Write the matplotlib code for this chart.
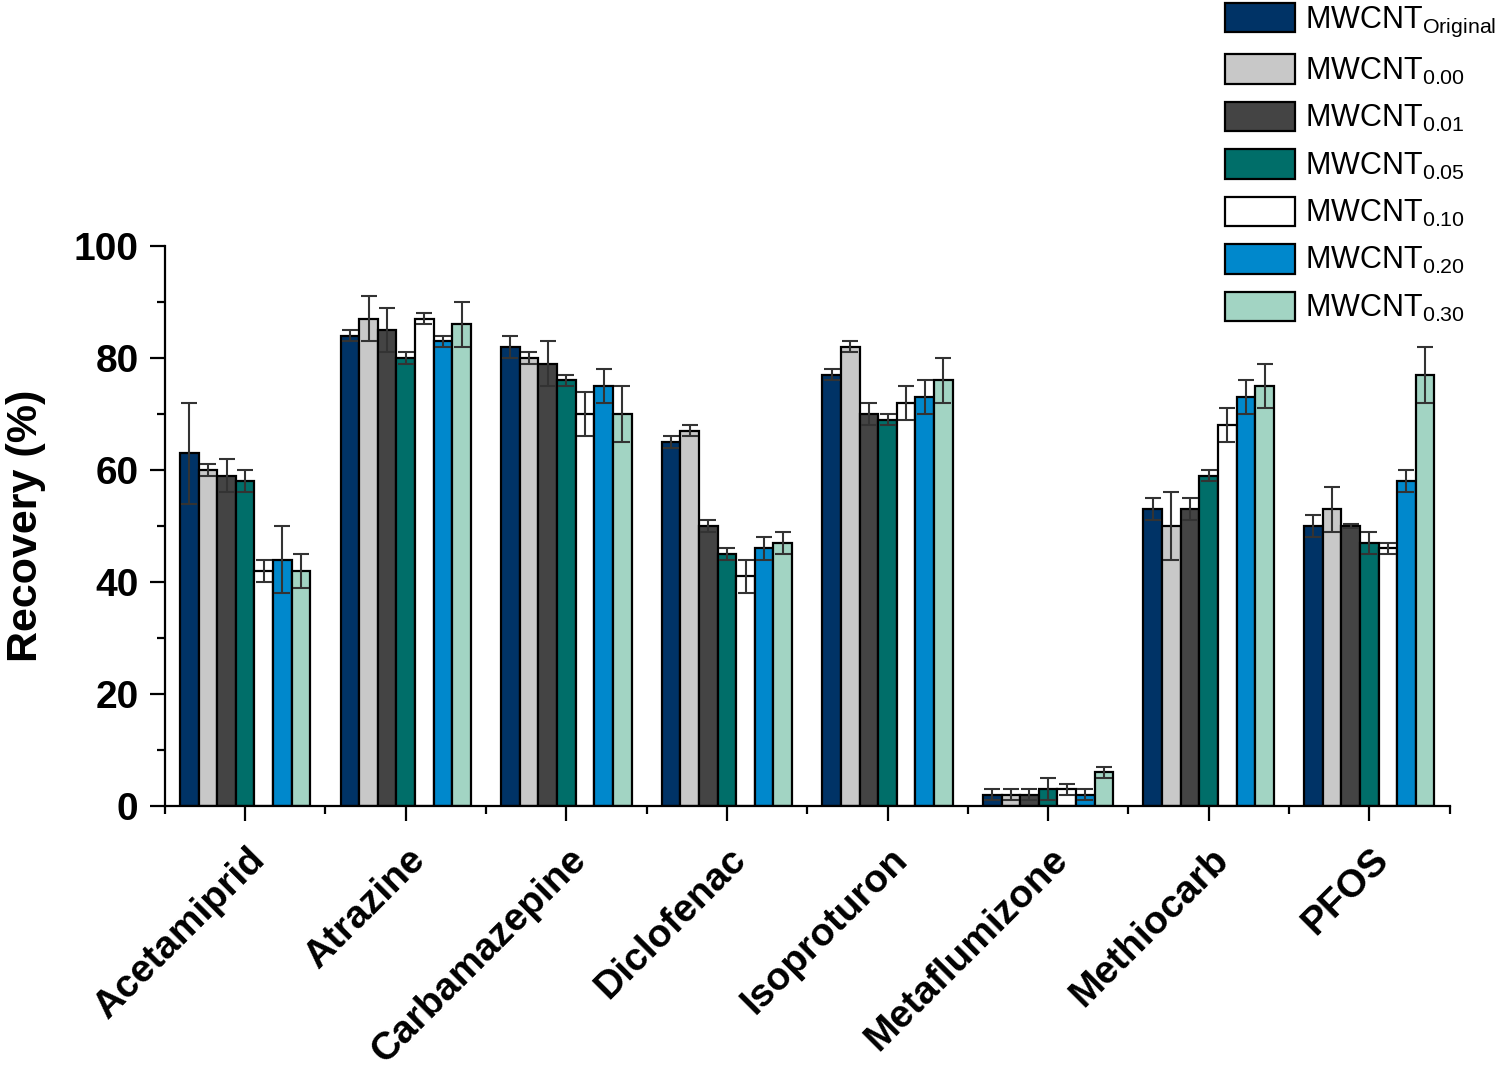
import matplotlib
matplotlib.use("Agg")
import matplotlib.pyplot as plt
import matplotlib.transforms as mtransforms
import numpy as np
from matplotlib.ticker import MultipleLocator, FixedLocator

plt.rcParams['font.family'] = ['Liberation Sans', 'DejaVu Sans']
plt.rcParams['mathtext.default'] = 'regular'

compounds = ["Acetamiprid", "Atrazine", "Carbamazepine", "Diclofenac",
             "Isoproturon", "Metaflumizone", "Methiocarb", "PFOS"]
series = ["Original", "0.00", "0.01", "0.05", "0.10", "0.20", "0.30"]
colors = ["#003366", "#C8C8C8", "#444444", "#006E69", "#FFFFFF", "#0088CC", "#A2D4C3"]

mw_original = [63, 84, 82, 65, 77, 2, 53, 50]
mw_000 = [60, 87, 80, 67, 82, 2, 50, 53]
mw_001 = [59, 85, 79, 50, 70, 2, 53, 50]
mw_005 = [58, 80, 76, 45, 69, 3, 59, 47]
mw_010 = [42, 87, 70, 41, 72, 3, 68, 46]
mw_020 = [44, 83, 75, 46, 73, 2, 73, 58]
mw_030 = [42, 86, 70, 47, 76, 6, 75, 77]

err_original = [9, 1, 2, 1, 1, 1, 2, 2]
err_000 = [1, 4, 1, 1, 1, 1, 6, 4]
err_001 = [3, 4, 4, 1, 2, 1, 2, 0.3]
err_005 = [2, 1, 1, 1, 1, 2, 1, 2]
err_010 = [2, 1, 4, 3, 3, 1, 3, 1]
err_020 = [6, 1, 3, 2, 3, 1, 3, 2]
err_030 = [3, 4, 5, 2, 4, 1, 4, 5]

values = [mw_original, mw_000, mw_001, mw_005, mw_010, mw_020, mw_030]
errors = [err_original, err_000, err_001, err_005, err_010, err_020, err_030]

fig = plt.figure(figsize=(14.99, 10.73), dpi=100)
ax = fig.add_axes([0.110, 0.2488, 0.857, 0.5219])

x = np.arange(len(compounds))
n = len(series)
w = 0.116
for i, (vals, errs, c, s) in enumerate(zip(values, errors, colors, series)):
    pos = x + (i - (n - 1) / 2) * w
    ax.bar(pos, vals, width=w, color=c, edgecolor='black', linewidth=1.6,
           label='$MWCNT_{' + s + '}$', zorder=2)
    ax.errorbar(pos, vals, yerr=errs, fmt='none', ecolor='#333333',
                elinewidth=1.5, capsize=6, capthick=1.5, zorder=3)

ax.set_xlim(-0.5, len(compounds) - 0.5)
ax.set_ylim(0, 100)
ax.spines['top'].set_visible(False)
ax.spines['right'].set_visible(False)
ax.spines['left'].set_linewidth(1.6)
ax.spines['bottom'].set_linewidth(1.6)

ax.set_xticks(x)
ax.set_xticklabels([])
label_trans = ax.get_xaxis_transform() + mtransforms.ScaledTranslation(0.14, -0.48, fig.dpi_scale_trans)
for xi, name in zip(x, compounds):
    ax.text(xi, 0, name, transform=label_trans, rotation=45, ha='right', va='center',
            rotation_mode='anchor', fontsize=28, fontweight='bold', clip_on=False)

ax.xaxis.set_minor_locator(FixedLocator(np.arange(-0.5, len(compounds), 1.0)))
ax.yaxis.set_major_locator(MultipleLocator(20))
ax.yaxis.set_minor_locator(MultipleLocator(10))
ax.tick_params(axis='both', which='major', direction='out', length=11, width=1.6)
ax.tick_params(axis='both', which='minor', direction='out', length=6, width=1.6)
ax.tick_params(axis='y', which='major', labelsize=28, pad=8)
for lab in ax.get_yticklabels():
    lab.set_fontweight('bold')

ax.set_ylabel('Recovery (%)', fontsize=31, fontweight='bold', labelpad=20)

fig.legend(loc='upper right', bbox_to_anchor=(1.0, 1.0), frameon=False,
           fontsize=22, handlelength=2.29, handleheight=1.1, labelspacing=0.5,
           handletextpad=0.3, borderaxespad=0.05, borderpad=0.05)

fig.savefig('out.png', dpi=100)
